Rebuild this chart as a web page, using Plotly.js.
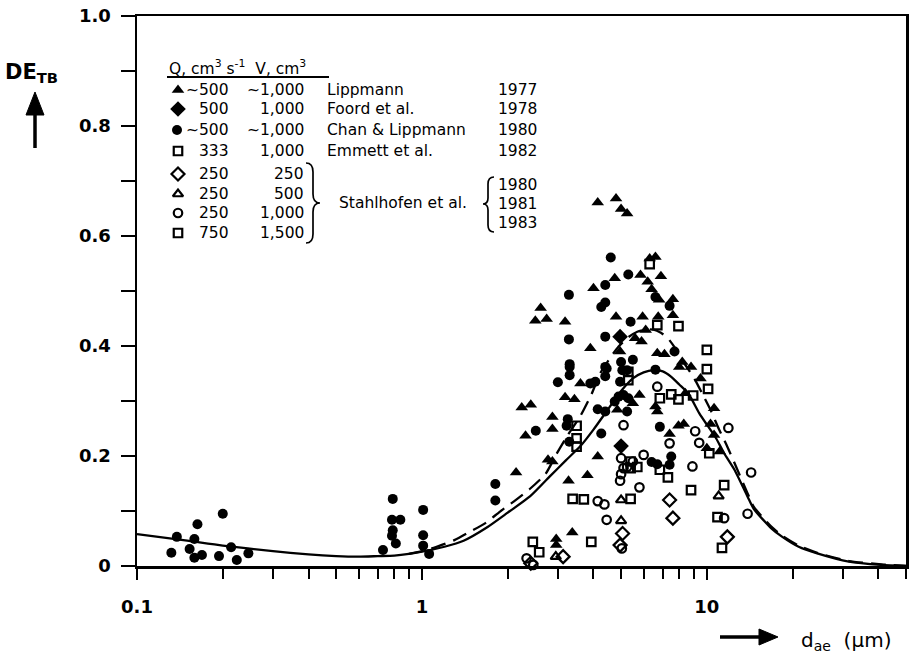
<!DOCTYPE html>
<html>
<head>
<meta charset="utf-8">
<script src="https://cdn.plot.ly/plotly-3.0.1.min.js"></script>
<style>
  html, body { margin: 0; padding: 0; background: #fff; }
  #chart { width: 911px; height: 657px; }
</style>
</head>
<body>
<div id="chart"></div>
<script>
// Tracheobronchial deposition efficiency (DE_TB) against aerodynamic diameter d_ae

// Lippmann 1977 (filled triangles)
const lippmannX = [4.14,4.8,5.0,5.25,6.3,6.6,5.85,6.9,6.2,6.4,6.8,7.6,7.6,6.75,5.95,6.1,5.6,5.9,6.7,7.1,8.2,8.8,8.0,4.75,4.0,2.61,2.5,2.74,3.18,4.8,3.9,3.6,3.18,3.43,2.24,2.41,2.87,2.87,2.31,2.77,2.87,2.14,3.27,3.81,4.14,4.85,5.5,5.8,6.6,6.7,8.4,9.5,10.6,7.95,8.3,10.3,10.6,7.4,10.0,11.1,3.37,2.96,2.96,4.96];
const lippmannY = [0.661,0.668,0.649,0.641,0.559,0.562,0.529,0.527,0.517,0.503,0.484,0.485,0.456,0.453,0.453,0.429,0.414,0.408,0.387,0.385,0.371,0.362,0.362,0.523,0.505,0.469,0.446,0.449,0.444,0.453,0.396,0.332,0.307,0.303,0.288,0.293,0.271,0.249,0.237,0.193,0.19,0.17,0.155,0.165,0.199,0.284,0.296,0.311,0.29,0.281,0.314,0.341,0.287,0.255,0.258,0.258,0.238,0.24,0.214,0.208,0.061,0.049,0.038,0.39];

// Foord et al. 1978 (filled diamonds)
const foordX = [4.96, 5.0];
const foordY = [0.417, 0.218];

// Chan & Lippmann 1980 (filled circles)
const chanX = [0.132,0.138,0.153,0.159,0.159,0.163,0.169,0.194,0.200,0.214,0.224,0.246,0.73,0.79,0.785,0.84,0.79,0.785,0.81,1.01,1.01,1.01,1.06,1.81,1.81,3.0,3.3,3.3,2.51,3.25,3.22,3.29,4.26,4.14,4.4,4.75,4.6,5.3,4.4,3.28,4.26,4.4,5.4,3.28,4.4,3.3,4.4,4.45,4.4,4.06,3.9,5.0,5.05,5.5,4.96,4.9,5.1,5.3,5.25,5.25,6.84,6.6,7.4,7.7,6.4,6.7,7.5,7.4,6.6];
const chanY = [0.024,0.053,0.031,0.015,0.049,0.076,0.020,0.018,0.095,0.034,0.011,0.023,0.029,0.122,0.084,0.084,0.065,0.055,0.041,0.102,0.056,0.037,0.022,0.149,0.119,0.334,0.347,0.362,0.246,0.267,0.255,0.226,0.241,0.285,0.281,0.299,0.561,0.53,0.511,0.493,0.471,0.479,0.444,0.412,0.417,0.367,0.362,0.359,0.345,0.335,0.332,0.371,0.356,0.375,0.335,0.308,0.311,0.305,0.281,0.356,0.253,0.489,0.473,0.39,0.189,0.185,0.199,0.184,0.357];

// Emmett et al. 1982 (open squares)
const emmettX = [3.49,3.49,3.49,3.38,3.7,2.45,2.58,3.93,5.4,5.7,5.4,5.3,5.3];
const emmettY = [0.255,0.232,0.217,0.122,0.121,0.044,0.025,0.044,0.19,0.18,0.178,0.353,0.338];

// Stahlhofen et al., Q = 250, V = 250 (open diamonds)
const stahl250X = [5.06,4.96,7.4,7.6,11.8,3.13,2.41];
const stahl250Y = [0.059,0.038,0.12,0.087,0.053,0.017,0.005];

// Stahlhofen et al., Q = 250, V = 500 (open triangles)
const stahl500X = [5.0,5.0,11.0,2.95];
const stahl500Y = [0.12,0.082,0.127,0.017];

// Stahlhofen et al., Q = 250, V = 1,000 (open circles)
const stahl1000X = [5.1,5.0,5.1,5.0,4.96,5.25,4.14,4.37,4.45,5.03,6.7,9.1,11.9,7.4,9.4,6.0,8.9,14.3,5.8,13.9,11.5,2.33,2.46,5.5];
const stahl1000Y = [0.256,0.196,0.178,0.167,0.155,0.18,0.118,0.112,0.084,0.032,0.326,0.245,0.251,0.223,0.224,0.202,0.181,0.17,0.143,0.095,0.087,0.014,0.002,0.19];

// Stahlhofen et al., Q = 750, V = 1,500 (open squares)
const stahl1500X = [6.3,6.7,7.95,10.0,10.0,10.1,6.84,7.5,7.95,8.95,10.2,6.84,7.3,11.5,8.8,5.4,10.9,11.3];
const stahl1500Y = [0.549,0.438,0.436,0.393,0.358,0.322,0.305,0.312,0.303,0.31,0.205,0.175,0.161,0.147,0.138,0.122,0.089,0.033];

// Model curves
const solidX = [0.1,0.15,0.2,0.3,0.4,0.5,0.6,0.7,0.8,0.9,1.0,1.2,1.4,1.7,2.0,2.4,2.8,3.2,3.6,4.0,4.5,5.0,5.5,6.0,6.5,7.0,7.5,8.0,8.6,9.4,10.0,10.7,11.5,12.5,13.9,14.6,16.8,18.4,21,24.4,31.5,41,50];
const solidY = [0.058,0.046,0.037,0.027,0.021,0.018,0.017,0.018,0.019,0.022,0.026,0.035,0.046,0.071,0.097,0.127,0.162,0.192,0.218,0.248,0.285,0.318,0.341,0.352,0.356,0.354,0.344,0.33,0.314,0.278,0.257,0.235,0.205,0.175,0.126,0.104,0.069,0.053,0.035,0.023,0.008,0.002,0.0];
const dashX = [0.9,1.0,1.1,1.3,1.47,1.67,1.88,2.11,2.39,2.72,2.97,3.25,3.6,3.95,4.22,4.6,4.9,5.3,5.7,6.1,6.5,6.9,7.3,7.7,8.1,8.6,9.1,9.6,10.3,11.0,11.8,12.8,13.9,14.6,16.8,18.4,21,24.4,31.5,41,50];
const dashY = [0.022,0.027,0.033,0.047,0.062,0.078,0.099,0.118,0.14,0.168,0.204,0.238,0.273,0.314,0.35,0.38,0.399,0.416,0.426,0.43,0.43,0.424,0.414,0.398,0.378,0.358,0.338,0.315,0.284,0.25,0.217,0.175,0.132,0.108,0.072,0.055,0.037,0.024,0.009,0.003,0.0];

// Axis ticks
const xTickVals = [0.1, 1, 10];
const xTickText = ['0.1', '1', '10'];
const xMinorVals = [0.2,0.3,0.4,0.5,0.6,0.7,0.8,0.9,2,3,4,5,6,7,8,9,20,30,40,50];
const yTickVals = [0, 0.2, 0.4, 0.6, 0.8, 1.0];
const yTickText = ['0', '0.2', '0.4', '0.6', '0.8', '1.0'];

// Key table
const keyQ = ['~500', '500', '~500', '333', '250', '250', '250', '750'];
const keyV = ['~1,000', '1,000', '~1,000', '1,000', '250', '500', '1,000', '1,500'];
const keyNames = ['Lippmann', 'Foord et al.', 'Chan &amp; Lippmann', 'Emmett et al.'];
const keyYears = ['1977', '1978', '1980', '1982'];
const stahlName = 'Stahlhofen et al.';
const stahlYears = ['1980', '1981', '1983'];

// ---- layout geometry (pixels of the 911 x 657 canvas) ----
const L = 137, R = 906, T = 16, B = 566;
const W = R - L, H = B - T;
const px = x => (x - L) / W;
const py = y => (B - y) / H;
const FONT = 'DejaVu Sans, Arial, sans-serif';
const BLACK = '#000';

// marker styles shared by the plotted series and their key entries
const STYLES = [
  { symbol: 'triangle-up', size: 11, lw: 0 },
  { symbol: 'diamond', size: 12, lw: 0 },
  { symbol: 'circle', size: 10, lw: 0 },
  { symbol: 'square-open', size: 8.5, lw: 2.2 },
  { symbol: 'diamond-open', size: 10, lw: 2.2 },
  { symbol: 'triangle-up-open', size: 9, lw: 2.2 },
  { symbol: 'circle-open', size: 8.5, lw: 2.2 },
  { symbol: 'square-open', size: 8.5, lw: 2.2 }
];

function markerOf(k) {
  const s = STYLES[k];
  return { symbol: s.symbol, size: s.size, color: BLACK, line: { color: BLACK, width: s.lw } };
}
function pts(name, xs, ys, k) {
  return { type: 'scatter', mode: 'markers', name: name, x: xs, y: ys,
    cliponaxis: false, showlegend: false, hoverinfo: 'x+y', marker: markerOf(k) };
}

const traces = [
  { type: 'scatter', mode: 'lines', x: solidX, y: solidY, name: 'model',
    line: { color: BLACK, width: 2.3, shape: 'spline', smoothing: 0.6 }, showlegend: false },
  { type: 'scatter', mode: 'lines', x: dashX, y: dashY, name: 'model (dashed)',
    line: { color: BLACK, width: 2.3, dash: '15px,8px', shape: 'spline', smoothing: 0.6 }, showlegend: false },
  pts('Lippmann 1977', lippmannX, lippmannY, 0),
  pts('Foord et al. 1978', foordX, foordY, 1),
  pts('Chan & Lippmann 1980', chanX, chanY, 2),
  pts('Emmett et al. 1982', emmettX, emmettY, 3),
  pts('Stahlhofen 250/250', stahl250X, stahl250Y, 4),
  pts('Stahlhofen 250/500', stahl500X, stahl500Y, 5),
  pts('Stahlhofen 250/1000', stahl1000X, stahl1000Y, 6),
  pts('Stahlhofen 750/1500', stahl1500X, stahl1500Y, 7)
];

// key symbols, drawn on a hidden overlay axis whose units are canvas pixels
const rowY = [90, 109, 130, 151, 174, 194, 213, 233];
const keyX = [178, 178, 177, 178, 178, 178, 178, 178];
STYLES.forEach((s, k) => {
  traces.push({ type: 'scatter', mode: 'markers', x: [keyX[k]], y: [rowY[k]],
    xaxis: 'x2', yaxis: 'y2', showlegend: false, hoverinfo: 'skip', cliponaxis: false,
    marker: markerOf(k) });
});

// ---- annotations: key table, axis titles ----
const ann = [];
function txt(text, x, y, xanchor, size, bold) {
  ann.push({
    text: text, xref: 'paper', yref: 'paper', x: px(x), y: py(y),
    xanchor: xanchor, yanchor: 'middle', showarrow: false,
    font: { family: FONT, size: size, color: BLACK, weight: bold ? 'bold' : 'normal' }
  });
}

const KEY = 15.5;
txt('Q, cm<sup>3</sup> s<sup>-1</sup>  V, cm<sup>3</sup>', 167, 67, 'left', KEY);
for (let i = 0; i < keyQ.length; i++) {
  txt(keyQ[i], 231, rowY[i], 'right', KEY);
  txt(keyV[i], 306, rowY[i], 'right', KEY);
}
for (let i = 0; i < keyNames.length; i++) {
  txt(keyNames[i], 325, rowY[i], 'left', KEY);
  txt(keyYears[i], 539, rowY[i], 'right', KEY);
}
txt(stahlName, 337, 203, 'left', KEY);
const stahlRow = [185, 204, 223];
stahlYears.forEach((yr, i) => txt(yr, 539, stahlRow[i], 'right', KEY));

// axis titles
txt('DE<sub>TB</sub>', 3, 73, 'left', 21, true);
txt('d<sub>ae</sub>  (\u03bcm)', 799, 641, 'left', 20);

// ---- shapes: key underline, braces, title arrows ----
function path(s) {
  // convert "M x,y Q x,y x,y ..." given in canvas pixels to paper units
  return s.replace(/(-?\d+(?:\.\d+)?),(-?\d+(?:\.\d+)?)/g,
    (m, a, b) => px(+a).toFixed(5) + ',' + py(+b).toFixed(5));
}
const shapes = [
  { type: 'line', xref: 'paper', yref: 'paper', x0: px(167), x1: px(329), y0: py(77), y1: py(77),
    line: { color: BLACK, width: 1.8 } },
  { type: 'path', xref: 'paper', yref: 'paper',
    path: path('M 306,163 Q 313,163 313,172 L 313,194 Q 313,203 320,203 Q 313,203 313,212 L 313,234 Q 313,243 306,243'),
    line: { color: BLACK, width: 1.7 } },
  { type: 'path', xref: 'paper', yref: 'paper',
    path: path('M 494,177 Q 488,177 488,184 L 488,198 Q 488,204 483,204 Q 488,204 488,210 L 488,225 Q 488,232 494,232'),
    line: { color: BLACK, width: 1.7 } },
  // up arrow under the y title
  { type: 'line', xref: 'paper', yref: 'paper', x0: px(35), x1: px(35), y0: py(148), y1: py(110),
    line: { color: BLACK, width: 3.5 } },
  { type: 'path', xref: 'paper', yref: 'paper', path: path('M 35,92 L 26,115 L 44,115 Z'),
    fillcolor: BLACK, line: { color: BLACK, width: 1 } },
  // right arrow before the x title
  { type: 'line', xref: 'paper', yref: 'paper', x0: px(720), x1: px(764), y0: py(637), y1: py(637),
    line: { color: BLACK, width: 3.5 } },
  { type: 'path', xref: 'paper', yref: 'paper', path: path('M 778,637 L 759,629 L 759,645 Z'),
    fillcolor: BLACK, line: { color: BLACK, width: 1 } }
];

const TICKFONT = { family: FONT, size: 18, color: BLACK, weight: 'bold' };

const layout = {
  width: 911, height: 657,
  margin: { l: L, r: 911 - R, t: T, b: 657 - B, pad: 0 },
  paper_bgcolor: '#fff', plot_bgcolor: '#fff',
  showlegend: false,
  font: { family: FONT, color: BLACK },
  xaxis: {
    type: 'log', range: [-1, Math.log10(50)],
    showline: true, linecolor: BLACK, linewidth: 2.5, mirror: true,
    showgrid: false, zeroline: false,
    tickmode: 'array', tickvals: xTickVals, ticktext: xTickText,
    ticks: 'outside', ticklen: 11, tickwidth: 2, tickcolor: BLACK,
    ticklabelstandoff: 12, tickfont: TICKFONT,
    minor: { tickmode: 'array', tickvals: xMinorVals, ticks: 'outside', ticklen: 10, tickwidth: 2, tickcolor: BLACK, showgrid: false }
  },
  yaxis: {
    range: [0, 1],
    showline: true, linecolor: BLACK, linewidth: 2.5, mirror: true,
    showgrid: false, zeroline: false,
    tickmode: 'array', tickvals: yTickVals, ticktext: yTickText,
    ticks: 'outside', ticklen: 14, tickwidth: 2, tickcolor: BLACK,
    ticklabelstandoff: 6, tickfont: TICKFONT,
    minor: { tickmode: 'linear', tick0: 0, dtick: 0.1, ticks: 'outside', ticklen: 14, tickwidth: 2, tickcolor: BLACK, showgrid: false }
  },
  xaxis2: { overlaying: 'x', anchor: 'y2', range: [L, R], visible: false, fixedrange: true },
  yaxis2: { overlaying: 'y', anchor: 'x2', range: [B, T], visible: false, fixedrange: true },
  annotations: ann,
  shapes: shapes
};

Plotly.newPlot('chart', traces, layout, { displayModeBar: false, staticPlot: true });
</script>
</body>
</html>
